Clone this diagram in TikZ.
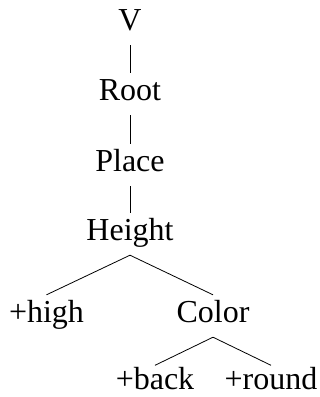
\documentclass[tikz,border=0pt]{standalone}
\usepackage{fontspec}
\setmainfont{Liberation Serif}
\begin{document}
\begin{tikzpicture}[x=1pt,y=-1pt,
  lbl/.style={anchor=base,inner sep=0pt,text height=27pt,text depth=15pt,font=\fontsize{32}{38}\selectfont},
  leaf/.style={lbl,text depth=2pt},
  edge/.style={line width=0.8pt}]
\useasboundingbox (0,0) rectangle (320,397);
\node[lbl] (V) at (130,30) {V};
\node[lbl] (Root) at (130,100) {Root};
\node[lbl] (Place) at (130,171) {Place};
\node[lbl] (Height) at (130,240) {Height};
\node[leaf] (high) at (46.5,322) {+high};
\node[lbl] (Color) at (213,322) {Color};
\node[leaf,text height=24pt] (back) at (155,389.5) {+back};
\node[leaf,text height=24pt] (round) at (271,389.5) {+round};
\draw[edge] (V.south) -- (Root.north);
\draw[edge] (Root.south) -- (Place.north);
\draw[edge] (Place.south) -- (Height.north);
\draw[edge] (Height.south) -- (high.north);
\draw[edge] (Height.south) -- (Color.north);
\draw[edge] (Color.south) -- (back.north);
\draw[edge] (Color.south) -- (round.north);
\end{tikzpicture}
\end{document}
